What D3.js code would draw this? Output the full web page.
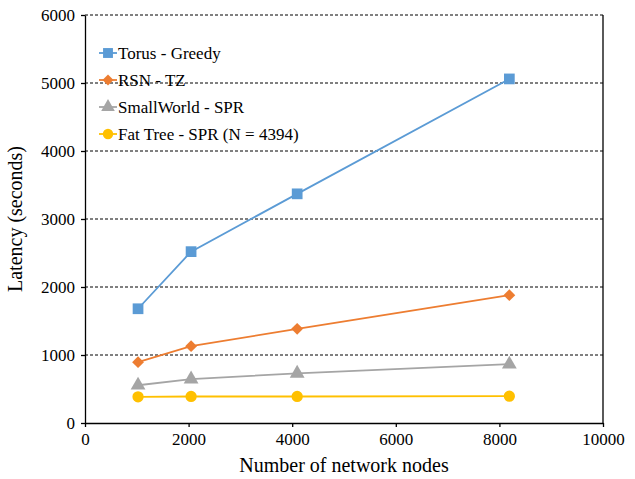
<!DOCTYPE html>
<meta charset="utf-8">
<style>
body { margin: 0; background: #fff; }
.grid line { stroke: #000; stroke-width: 1px; stroke-dasharray: 3,2; }
.axis path, .axis line { stroke: #000; stroke-width: 1.3px; }
</style>
<svg width="635" height="479"></svg>
<script src="https://d3js.org/d3.v7.min.js"></script>
<script>

// data
var nodes = [1024, 2048, 4096, 8192];
var torusGreedy = [1680, 2520, 3370, 5060];
var rsnTZ = [895, 1130, 1385, 1880];
var smallWorldSPR = [555, 645, 730, 865];
var fatTreeSPR = [385, 390, 390, 395];
var seriesNames = ["Torus - Greedy", "RSN - TZ", "SmallWorld - SPR", "Fat Tree - SPR (N = 4394)"];
var xTicks = [0, 2000, 4000, 6000, 8000, 10000];
var yTicks = [0, 1000, 2000, 3000, 4000, 5000, 6000];

var colors = ["#5b9bd5", "#ed7d31", "#a5a5a5", "#ffc000"];
var shapes = [d3.symbolSquare, d3.symbolSquare, d3.symbolTriangle, d3.symbolCircle];
var rotations = [0, 45, 0, 0];
var sizes = [115, 70, 95, 100];

var FONT = "Liberation Serif, serif";

var svg = d3.select("svg"),
    margin = {top: 15, right: 32, bottom: 56, left: 85},
    width = +svg.attr("width") - margin.left - margin.right,
    height = +svg.attr("height") - margin.top - margin.bottom;

var x = d3.scaleLinear().domain([0, 10000]).range([0, width]),
    y = d3.scaleLinear().domain([0, 6000]).range([height, 0]);

var g = svg.append("g")
    .attr("transform", "translate(" + margin.left + "," + margin.top + ")");

// dashed gridlines
g.append("g")
    .attr("class", "grid")
  .selectAll("line")
  .data(yTicks.filter(function(d) { return d > 0; }))
  .enter().append("line")
    .attr("x1", 0)
    .attr("x2", width)
    .attr("y1", function(d) { return y(d); })
    .attr("y2", function(d) { return y(d); });

// right border
g.append("line")
    .attr("x1", width).attr("x2", width)
    .attr("y1", 0).attr("y2", height)
    .attr("stroke", "#000").attr("stroke-width", 1.3);

g.append("g")
    .attr("class", "axis")
    .attr("transform", "translate(0," + height + ")")
    .call(d3.axisBottom(x).tickValues(xTicks).tickFormat(d3.format("d")).tickSizeInner(4).tickSizeOuter(0).tickPadding(6));

g.append("g")
    .attr("class", "axis")
    .call(d3.axisLeft(y).tickValues(yTicks).tickFormat(d3.format("d")).tickSizeInner(4).tickSizeOuter(0).tickPadding(6));

g.selectAll(".axis")
    .attr("font-family", FONT)
    .attr("font-size", 17);
g.selectAll(".axis text").attr("fill", "#000");
g.selectAll(".axis .domain").attr("stroke-width", 1.6);

var series = [torusGreedy, rsnTZ, smallWorldSPR, fatTreeSPR];

var line = d3.line()
    .x(function(d, i) { return x(nodes[i]); })
    .y(function(d) { return y(d); });

series.forEach(function(vals, k) {
  g.append("path")
      .datum(vals)
      .attr("fill", "none")
      .attr("stroke", colors[k])
      .attr("stroke-width", 1.8)
      .attr("d", line);

  g.selectAll(".pt" + k)
    .data(vals)
    .enter().append("path")
      .attr("class", "pt" + k)
      .attr("transform", function(d, i) { return "translate(" + x(nodes[i]) + "," + y(d) + ") rotate(" + rotations[k] + ")"; })
      .attr("d", d3.symbol().type(shapes[k]).size(sizes[k]))
      .attr("fill", colors[k]);
});

// legend
var legend = g.append("g")
    .attr("transform", "translate(14,38)");

seriesNames.forEach(function(name, k) {
  var row = legend.append("g").attr("transform", "translate(0," + (k * 27) + ")");
  row.append("line")
      .attr("x1", 0).attr("x2", 18)
      .attr("stroke", colors[k]).attr("stroke-width", 1.8);
  row.append("path")
      .attr("transform", "translate(9,0) rotate(" + rotations[k] + ")")
      .attr("d", d3.symbol().type(shapes[k]).size(sizes[k] * 0.85))
      .attr("fill", colors[k]);
  row.append("text")
      .attr("x", 19)
      .attr("y", 6)
      .attr("font-family", FONT)
      .attr("font-size", 17)
      .text(name);
});

// axis titles
svg.append("text")
    .attr("x", margin.left + width / 2)
    .attr("y", 472)
    .attr("text-anchor", "middle")
    .attr("font-family", FONT)
    .attr("font-size", 20)
    .text("Number of network nodes");

svg.append("text")
    .attr("transform", "translate(22," + (margin.top + height / 2) + ") rotate(-90)")
    .attr("text-anchor", "middle")
    .attr("font-family", FONT)
    .attr("font-size", 20)
    .text("Latency (seconds)");

</script>
